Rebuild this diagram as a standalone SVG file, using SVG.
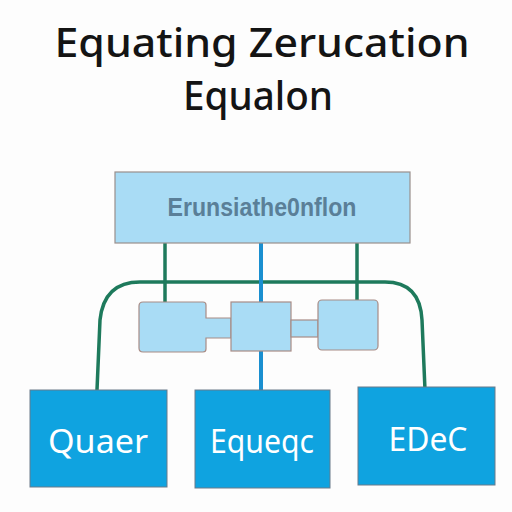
<svg xmlns="http://www.w3.org/2000/svg" width="512" height="512" viewBox="0 0 512 512">
<style>
.title{font-family:"Noto Sans","DejaVu Sans",sans-serif;font-size:40px;font-weight:500;fill:#141414;text-anchor:middle}
.top{fill:#a9dcf5;stroke:#9a8f8c;stroke-width:1.2}
.small{fill:#a9dcf5;stroke:#a88c86;stroke-width:1.2}
.bot{fill:#0fa3e0;stroke:#6b7a8a;stroke-width:1}
.btxt{font-family:"Noto Sans","DejaVu Sans",sans-serif;font-size:32px;fill:#ffffff;text-anchor:middle}
.ttxt{font-family:"Liberation Sans","DejaVu Sans",sans-serif;font-size:26px;font-weight:bold;fill:#5a7f98;text-anchor:middle}
.g{fill:none;stroke:#1e7a5c;stroke-width:3.5}
.b{fill:none;stroke:#1a8fd0;stroke-width:4}
</style>
<rect width="512" height="512" fill="#fdfdfd"/>
<text class="title" x="262" y="57" textLength="415" lengthAdjust="spacingAndGlyphs">Equating Zerucation</text>
<text class="title" x="258" y="110" textLength="150" lengthAdjust="spacingAndGlyphs">Equalon</text>
<g id="connectors">
<path class="g" d="M97 390 L100 320 Q104 282 140 282 L385 282 Q420 282 422 320 L425 390"/>
<line class="g" x1="165" y1="243" x2="165" y2="302"/>
<line class="g" x1="357" y1="243" x2="357" y2="300"/>
<line class="b" x1="261" y1="243" x2="261" y2="302"/>
<line class="b" x1="261" y1="351" x2="261" y2="390"/>
</g>
<g id="top">
<rect class="top" x="115" y="172" width="295" height="71"/>
<text class="ttxt" x="262" y="216" textLength="189" lengthAdjust="spacingAndGlyphs">Erunsiathe0nflon</text>
</g>
<g id="mid">
<path class="small" d="M143 302 H203 Q206 302 206 305 V318 H231 V338 H206 V349 Q206 352 203 352 H143 Q139 352 139 348 V306 Q139 302 143 302 Z"/>
<rect class="small" x="231" y="302" width="60" height="49"/>
<rect class="small" x="291" y="320" width="27" height="17"/>
<rect class="small" x="318" y="300" width="60" height="50" rx="4"/>
</g>
<g id="q">
<rect class="bot" x="30" y="390" width="137" height="97"/>
<text class="btxt" x="98" y="453" textLength="100" lengthAdjust="spacingAndGlyphs">Quaer</text>
</g>
<g id="e">
<rect class="bot" x="195" y="390" width="135" height="98"/>
<text class="btxt" x="262" y="453" textLength="104" lengthAdjust="spacingAndGlyphs">Equeqc</text>
</g>
<g id="d">
<rect class="bot" x="358" y="387" width="137" height="98"/>
<text class="btxt" x="428" y="451" textLength="79" lengthAdjust="spacingAndGlyphs">EDeC</text>
</g>
</svg>
